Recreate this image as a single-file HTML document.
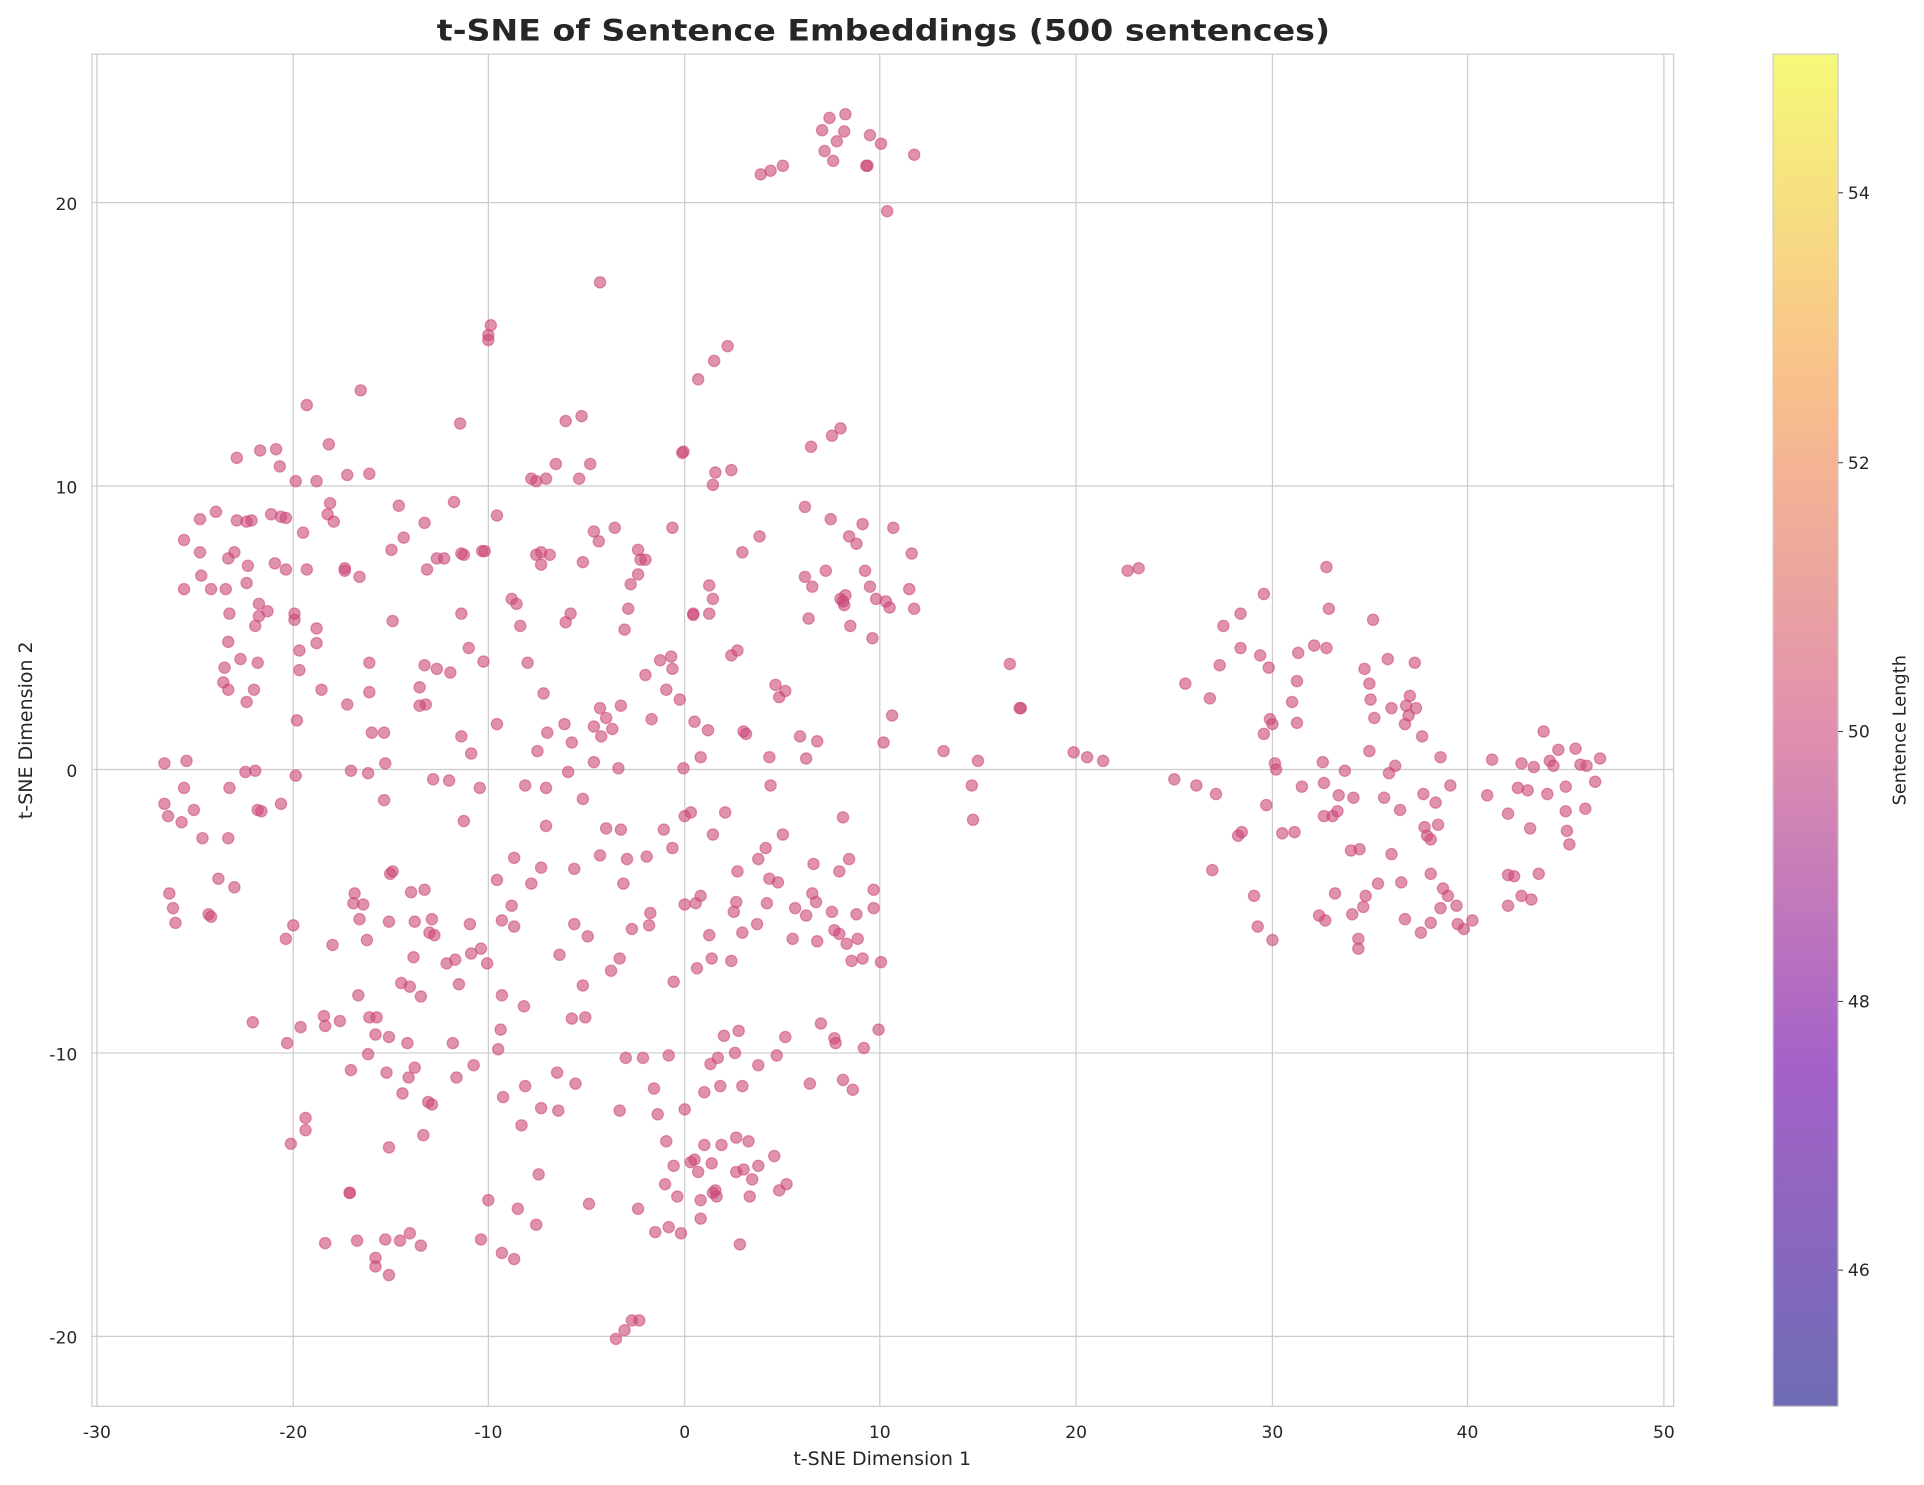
<!DOCTYPE html>
<html><head><meta charset="utf-8"><style>
html,body{margin:0;padding:0;background:#fff;width:1924px;height:1485px;overflow:hidden}
svg{display:block}
text{font-family:"DejaVu Sans","Liberation Sans",sans-serif;fill:#262626}
</style></head><body>
<svg id="s" width="1924" height="1485" viewBox="0 0 1568 1210" xmlns="http://www.w3.org/2000/svg">
<defs><linearGradient id="g" x1="0" y1="1" x2="0" y2="0">
<stop offset="0" stop-color="#6e6cb4"/><stop offset="0.25" stop-color="#a461c8"/><stop offset="0.5" stop-color="#e090ae"/><stop offset="0.75" stop-color="#f9be8c"/><stop offset="1" stop-color="#f5f978"/></linearGradient></defs>
<rect x="0" y="0" width="1568" height="1210" fill="#fff"/>
<g stroke="#cccccc" stroke-width="1">
<line x1="79" y1="44" x2="79" y2="1146"/><line x1="239" y1="44" x2="239" y2="1146"/><line x1="398" y1="44" x2="398" y2="1146"/><line x1="558" y1="44" x2="558" y2="1146"/><line x1="717" y1="44" x2="717" y2="1146"/><line x1="877" y1="44" x2="877" y2="1146"/><line x1="1037" y1="44" x2="1037" y2="1146"/><line x1="1196" y1="44" x2="1196" y2="1146"/><line x1="1356" y1="44" x2="1356" y2="1146"/>
<line x1="75" y1="165" x2="1364" y2="165"/><line x1="75" y1="396" x2="1364" y2="396"/><line x1="75" y1="627" x2="1364" y2="627"/><line x1="75" y1="858" x2="1364" y2="858"/><line x1="75" y1="1089" x2="1364" y2="1089"/>
<rect x="75" y="44" width="1289" height="1102" fill="none"/>
</g>
<g id="pts" fill="#cc4778" fill-opacity="0.6" stroke="#cc4778" stroke-opacity="0.55" stroke-width="1"></g>
<g font-size="14" text-anchor="middle">
<text x="79" y="1172">-30</text><text x="239" y="1172">-20</text><text x="398" y="1172">-10</text><text x="558" y="1172">0</text><text x="717" y="1172">10</text><text x="877" y="1172">20</text><text x="1037" y="1172">30</text><text x="1196" y="1172">40</text><text x="1356" y="1172">50</text>
</g>
<g font-size="14" text-anchor="end">
<text x="63" y="171">20</text><text x="63" y="402">10</text><text x="63" y="633">0</text><text x="63" y="864">-10</text><text x="63" y="1095">-20</text>
</g>
<text x="719" y="1194" font-size="15.5" text-anchor="middle">t-SNE Dimension 1</text>
<text transform="translate(26,595) rotate(-90)" font-size="15.5" text-anchor="middle">t-SNE Dimension 2</text>
<text x="720" y="33" font-size="24" font-weight="bold" text-anchor="middle" textLength="728" lengthAdjust="spacingAndGlyphs">t-SNE of Sentence Embeddings (500 sentences)</text>
<rect x="1445" y="44" width="53" height="1102" fill="url(#g)" stroke="#cccccc" stroke-width="1"/>
<g stroke="#333" stroke-width="0.8"><line x1="1498" y1="157" x2="1502" y2="157"/><line x1="1498" y1="377" x2="1502" y2="377"/><line x1="1498" y1="596" x2="1502" y2="596"/><line x1="1498" y1="816" x2="1502" y2="816"/><line x1="1498" y1="1035" x2="1502" y2="1035"/></g>
<g font-size="14"><text x="1506" y="162">54</text><text x="1506" y="382">52</text><text x="1506" y="601">50</text><text x="1506" y="821">48</text><text x="1506" y="1040">46</text></g>
<text transform="translate(1553,595) rotate(-90)" font-size="14.5" text-anchor="middle">Sentence Length</text>
</svg>
<script>
var P=[676,96,689,93,670,106,688,107,709,110,718,117,682,115,672,123,679,131,745,126,707,135,706,135,638,135,628,139,620,142,723,172,
489,230,400,265,398,273,398,277,593,282,582,294,569,309,294,318,250,330,375,345,474,339,461,343,661,364,685,349,678,355,557,368,556,369,596,383,583,385,581,395,268,362,225,366,212,367,228,380,283,387,241,392,301,386,258,392,453,378,481,378,472,390,445,390,433,390,437,392,193,373,221,419,247,434,269,410,267,419,272,425,325,412,229,421,233,422,176,417,201,425,193,424,163,423,205,424,191,450,163,450,224,459,202,461,233,464,250,464,281,463,356,455,376,451,393,449,405,420,370,409,441,450,448,452,437,452,475,458,501,430,484,433,488,441,548,430,619,437,656,413,677,423,703,427,728,430,698,443,692,437,705,465,687,490,673,465,656,470,662,478,743,451,741,480,714,488,725,495,745,496,722,490,685,488,693,510,659,504,605,450,578,477,581,488,565,501,526,456,
186,455,150,440,164,469,172,480,184,480,201,475,150,480,211,492,187,500,211,502,218,498,240,500,240,505,208,510,186,523,196,537,183,544,182,556,186,562,244,530,244,546,242,587,201,572,210,540,207,562,258,512,258,524,262,562,301,540,301,564,281,465,283,574,303,597,293,470,319,448,346,426,329,438,348,464,320,506,347,574,313,597,314,622,342,560,342,575,346,542,356,545,376,500,367,548,382,528,394,539,378,452,395,449,362,455,353,635,366,636,376,600,384,614,391,642,405,590,417,488,421,492,424,510,430,540,441,460,443,565,446,597,438,612,445,642,428,640,461,507,465,500,466,605,460,590,484,592,490,600,489,577,494,585,484,621,499,594,506,575,504,626,509,513,512,496,514,476,520,448,520,468,522,456,526,550,531,586,538,538,543,562,547,535,548,545,554,570,557,626,565,500,566,588,571,617,577,595,578,500,596,534,601,530,606,596,608,598,632,558,640,563,652,600,657,618,666,604,628,640,635,568,627,617,689,485,688,493,709,478,711,520,727,583,720,605,769,612,797,620,792,640,793,668,
134,622,134,655,137,665,138,728,141,740,143,752,150,642,148,670,152,620,158,660,165,683,170,745,172,747,178,716,186,683,187,642,191,723,200,629,208,628,210,660,213,661,229,655,233,765,239,754,241,632,286,628,300,630,313,652,318,712,289,728,296,737,299,766,317,751,320,710,338,751,346,725,335,727,354,762,364,785,352,749,378,669,392,773,397,785,405,717,419,699,433,720,441,707,445,673,463,629,475,651,468,708,489,697,494,675,468,753,506,676,508,720,511,700,515,757,527,698,529,754,541,676,548,691,558,665,563,662,567,736,571,730,581,680,591,662,601,710,598,743,617,753,618,700,624,691,627,716,634,719,638,680,663,704,662,728,666,767,665,735,680,758,684,761,690,769,699,765,712,725,718,784,712,740,694,783,687,666,684,710,692,700,698,745,678,743,648,740,657,746,646,765,625,736,600,735,605,760,596,783,578,762,558,737,568,789,580,781,549,800,530,744,505,781,479,763,475,803,498,791,477,829,466,830,456,778,409,750,417,738,419,755,427,820,409,811,408,839,384,777,383,753,371,782,374,802,350,760,343,812,337,780,334,804,327,801,317,845,307,829,306,843,301,829,292,811,293,749,288,736,271,770,264,828,277,832,265,836,245,837,234,850,206,833,
286,872,300,859,315,874,328,891,332,850,338,870,333,878,349,898,352,900,317,935,345,925,372,878,369,850,386,868,406,855,410,894,428,885,441,903,454,874,469,883,505,905,510,862,524,862,533,887,536,908,545,860,558,904,566,945,574,890,579,867,587,885,585,862,590,844,602,840,605,885,588,933,574,933,618,868,633,860,640,845,660,883,669,834,680,846,704,854,716,839,703,781,681,850,687,880,695,888,600,955,581,972,549,950,584,975,542,965,606,953,618,950,631,942,611,975,563,947,571,978,599,858,545,1000,552,975,569,955,580,948,600,927,610,930,520,985,543,930,534,1004,
237,932,249,911,249,921,285,972,285,972,265,1013,291,1011,306,1025,306,1032,314,1010,326,1011,334,1005,343,1015,317,1039,392,1010,409,1021,419,1026,437,998,398,978,422,985,439,957,425,917,455,905,480,981,502,1091,509,1084,515,1076,521,1076,555,1005,571,993,583,970,603,1014,613,961,635,970,641,965,
823,541,832,577,831,577,875,613,886,617,899,620,919,465,928,463,957,635,966,557,975,640,991,647,988,709,986,569,997,510,994,542,1011,500,1011,528,1030,484,1027,534,1034,544,1035,586,1030,598,1032,656,1037,590,1039,622,1040,627,1037,766,1025,755,1022,730,1012,678,1009,681,1045,679,1053,572,1055,678,1057,589,1061,641,1057,555,1058,532,1071,526,1081,462,1081,528,1083,496,1078,621,1079,638,1079,665,1075,746,1080,750,1086,665,1088,728,1090,661,1091,648,1096,628,1103,650,1101,693,1102,745,1107,773,1111,739,1113,730,1108,692,1107,765,1120,585,1117,570,1116,612,1116,557,1112,545,1119,505,1123,720,1131,537,1134,577,1132,630,1128,650,1141,660,1153,540,1159,600,1160,647,1134,696,1142,719,1145,749,1146,575,1145,590,1137,624,1148,583,1154,577,1161,674,1166,752,1166,712,1170,654,1174,740,1180,730,1182,640,1188,753,1193,757,1200,750,1158,760,1166,684,1172,672,1176,724,1187,738,1149,567,1163,681,1174,617,
1212,648,1216,619,1229,663,1229,738,1229,713,1234,714,1237,642,1240,622,1245,644,1247,675,1250,625,1258,596,1261,647,1263,620,1266,624,1270,611,1276,641,1276,661,1277,677,1279,688,1284,610,1288,623,1292,659,1293,624,1300,637,1304,618,1240,730,1248,733,1254,712];
var g=document.getElementById('pts'),h='';
for(var i=0;i<P.length;i+=2)h+='<circle cx="'+P[i]+'" cy="'+P[i+1]+'" r="4.6"/>';
g.innerHTML=h;
</script>
</body></html>
